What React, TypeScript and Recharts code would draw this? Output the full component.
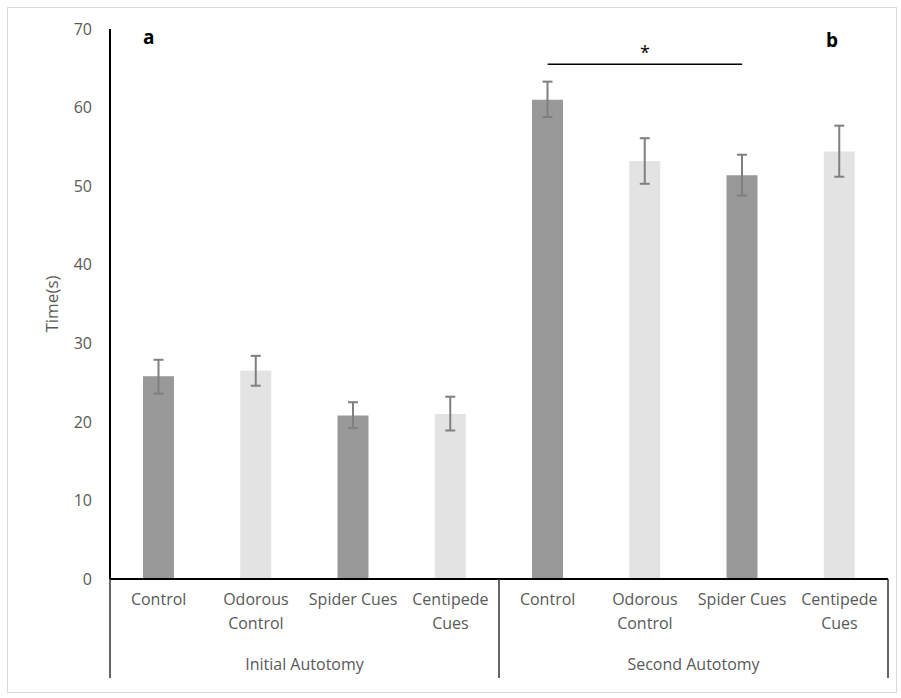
import { BarChart, Bar, XAxis, YAxis, ErrorBar, Cell, ReferenceLine, Customized } from 'recharts'

// categories (two autotomy groups, four treatments each)
const keys = ['i-control', 'i-odour', 'i-spider', 'i-centipede', 's-control', 's-odour', 's-spider', 's-centipede']
const labelLines = [
  ['Control'],
  ['Odorous', 'Control'],
  ['Spider Cues'],
  ['Centipede', 'Cues'],
  ['Control'],
  ['Odorous', 'Control'],
  ['Spider Cues'],
  ['Centipede', 'Cues'],
]
const groups = ['Initial Autotomy', 'Second Autotomy']
const groupOf = [0, 0, 0, 0, 1, 1, 1, 1]

// mean time and error bar ends
const means = [25.8, 26.5, 20.8, 21.0, 61.0, 53.2, 51.4, 54.4]
const lows = [23.6, 24.6, 19.2, 18.9, 58.8, 50.3, 48.8, 51.2]
const highs = [27.9, 28.4, 22.5, 23.2, 63.3, 56.1, 54.0, 57.7]

const yTicks = [0, 10, 20, 30, 40, 50, 60, 70]

const DARK = '#999999'
const LIGHT = '#e3e3e3'
const TEXT = '#595959'
const FONT = '"Open Sans", sans-serif'

const data = keys.map((k, i) => ({
  key: k,
  group: groups[groupOf[i]],
  time: means[i],
  err: [+(means[i] - lows[i]).toFixed(2), +(highs[i] - means[i]).toFixed(2)],
}))

const CategoryTick = (props: any) => {
  const { x, y, payload, index } = props
  const i = typeof index === 'number' ? index : keys.indexOf(payload.value)
  const half = payload.offset || 48.6
  const lines = labelLines[i] || []
  const top = y - 8
  return (
    <g>
      {lines.map((l, j) => (
        <text
          key={j}
          x={x}
          y={top + 26 + j * 24}
          textAnchor="middle"
          fill={TEXT}
          fontSize={16}
          fontFamily={FONT}
        >
          {l}
        </text>
      ))}
      {(i === 0 || i === 4) && (
        <line x1={x - half} x2={x - half} y1={top} y2={top + 99} stroke="#333" strokeWidth={1.5} />
      )}
      {i === 7 && (
        <line x1={x + half} x2={x + half} y1={top} y2={top + 99} stroke="#333" strokeWidth={1.5} />
      )}
      {(i === 1 || i === 5) && (
        <text
          x={x + half}
          y={top + 91}
          textAnchor="middle"
          fill={TEXT}
          fontSize={16}
          fontFamily={FONT}
        >
          {groups[groupOf[i]]}
        </text>
      )}
    </g>
  )
}

const Letters = () => (
  <g fontFamily={FONT} fontWeight="bold" fontSize={19} fill="#000">
    <text x={143} y={44}>a</text>
    <text x={826} y={47}>b</text>
  </g>
)

const App = () => {
  return (
    <div
      style={{
        position: 'absolute',
        left: 0,
        top: 0,
        width: 901,
        height: 698,
        background: '#fff',
      }}
    >
      <div
        style={{
          position: 'absolute',
          left: 7,
          top: 7,
          width: 888,
          height: 684,
          border: '1px solid #d9d9d9',
        }}
      />
      <BarChart
        width={901}
        height={698}
        data={data}
        margin={{ top: 29, right: 13, bottom: 0, left: 0 }}
        style={{ position: 'absolute', left: 0, top: 0 }}
      >
        <XAxis
          dataKey="key"
          type="category"
          height={119}
          axisLine={{ stroke: '#000', strokeWidth: 2 }}
          tickLine={false}
          tick={<CategoryTick />}
          interval={0}
        />
        <YAxis
          type="number"
          domain={[0, 70]}
          ticks={yTicks}
          width={110}
          axisLine={{ stroke: '#000', strokeWidth: 2 }}
          tickLine={false}
          tickMargin={12}
          tick={{ fill: TEXT, fontSize: 16, fontFamily: FONT }}
          label={{
            value: 'Time(s)',
            angle: -90,
            position: 'insideLeft',
            offset: 52,
            fill: TEXT,
            fontSize: 17,
            fontFamily: FONT,
            style: { textAnchor: 'middle', fill: TEXT },
          }}
        />
        <Bar dataKey="time" barSize={31} isAnimationActive={false}>
          {data.map((d, i) => (
            <Cell key={d.key} fill={i % 2 === 0 ? DARK : LIGHT} />
          ))}
          <ErrorBar dataKey="err" width={5} stroke="#7f7f7f" strokeWidth={2} direction="y" />
        </Bar>
        <ReferenceLine
          segment={[
            { x: 's-control', y: 65.5 },
            { x: 's-spider', y: 65.5 },
          ]}
          stroke="#000"
          strokeWidth={1.5}
          label={{ value: '*', position: 'top', fill: '#000', fontSize: 18, fontFamily: FONT }}
        />
        <Customized component={Letters} />
      </BarChart>
    </div>
  )
}

export default App
